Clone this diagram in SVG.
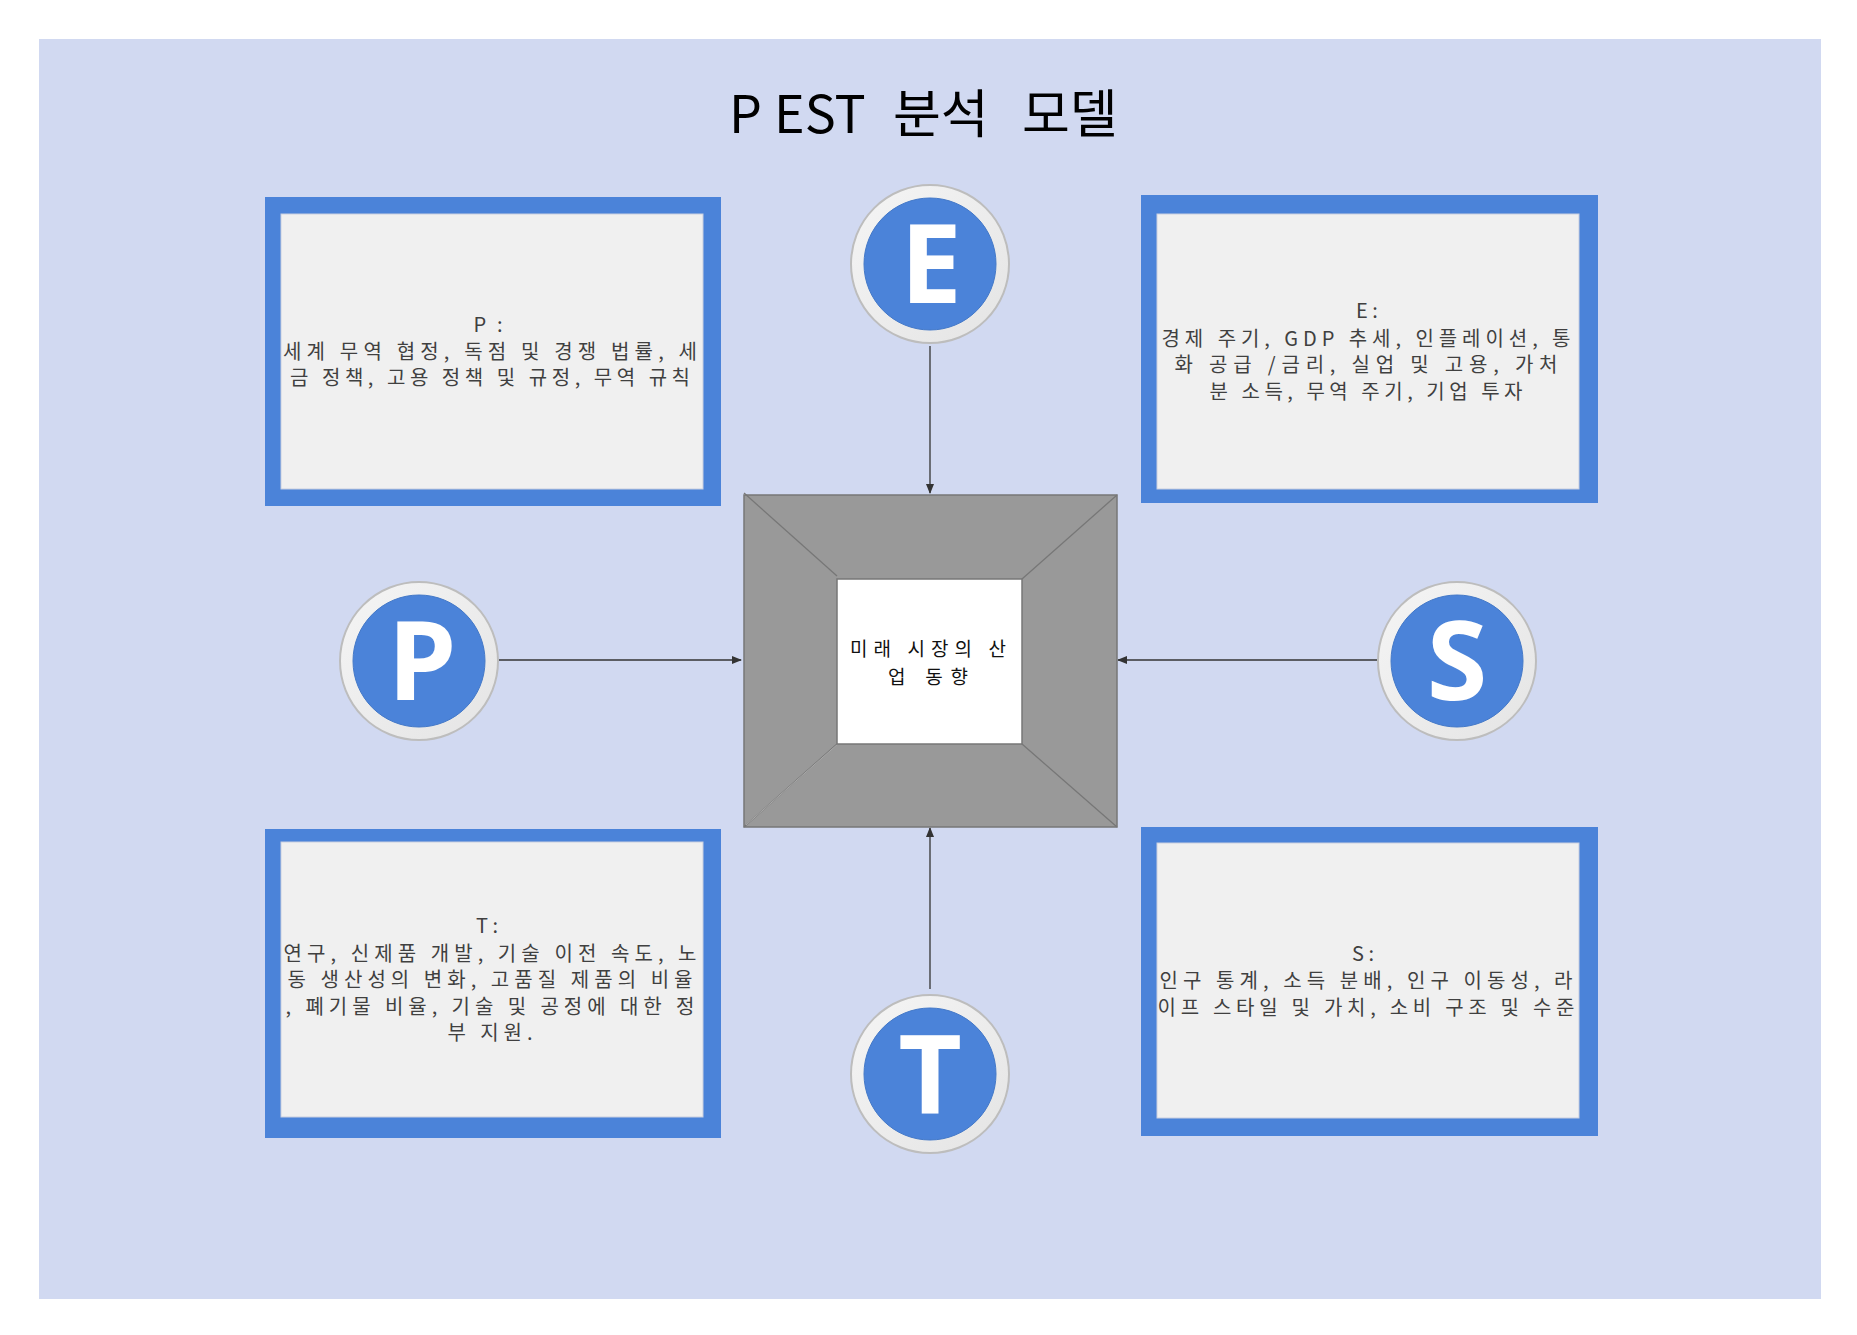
<svg xmlns="http://www.w3.org/2000/svg" width="1857" height="1335" viewBox="0 0 1857 1335">
<defs>
<style>
.bg{fill:#d1d9f1}
.card{fill:#4b83d9}
.cardin{fill:#f0f0f0;stroke:#c9cfe0;stroke-width:1}
.txt{font-family:"Noto Sans CJK KR","Noto Sans",sans-serif;font-size:20px;fill:#404040;text-anchor:middle}
.ctxt{font-family:"Noto Sans CJK KR","Noto Sans",sans-serif;font-size:19px;fill:#111;text-anchor:middle}
.ring{fill:url(#ringg);stroke:#bdbdbd;stroke-width:2}
.disc{fill:#4b83d9;stroke:#4479c8;stroke-width:1}
.letter{font-family:"Open Sans","Noto Sans",sans-serif;font-weight:bold;font-size:110px;fill:#fff;text-anchor:middle}
.conn{stroke:#333;stroke-width:1.3;fill:none}
.frame{fill:#999;stroke:#777;stroke-width:1.5}
.bevel{stroke:#777;stroke-width:1.3;fill:none}
</style>
<linearGradient id="ringg" x1="0" y1="0" x2="1" y2="1">
<stop offset="0" stop-color="#f5f5f5"/>
<stop offset="1" stop-color="#e4e4e4"/>
</linearGradient>
<marker id="arr" markerWidth="10" markerHeight="10" refX="9" refY="5" orient="auto" markerUnits="userSpaceOnUse">
<path d="M0,1 L10,5 L0,9 Z" fill="#333"/>
</marker>
</defs>
<rect width="1857" height="1335" fill="#fff"/>
<rect class="bg" x="39" y="39" width="1782" height="1260"/>
<text y="133" style="font-family:'Noto Sans CJK KR','Noto Sans',sans-serif;font-size:52px;fill:#000"><tspan x="729">P</tspan><tspan x="774">EST</tspan><tspan x="893">분석</tspan><tspan x="1022">모델</tspan></text>

<g id="connectors">
<line class="conn" x1="930" y1="346" x2="930" y2="493" marker-end="url(#arr)"/>
<line class="conn" x1="499" y1="660" x2="741" y2="660" marker-end="url(#arr)"/>
<line class="conn" x1="1377" y1="660" x2="1118" y2="660" marker-end="url(#arr)"/>
<line class="conn" x1="930" y1="989" x2="930" y2="828" marker-end="url(#arr)"/>
</g>

<g id="node-P-card">
<rect class="card" x="265" y="197" width="456" height="309"/>
<rect class="cardin" x="281" y="214" width="422" height="275"/>
<text class="txt" x="488" y="332" textLength="29" lengthAdjust="spacing">P :</text>
<text class="txt" x="490" y="359" textLength="414" lengthAdjust="spacing">세계 무역 협정, 독점 및 경쟁 법률, 세</text>
<text class="txt" x="490" y="385" textLength="400" lengthAdjust="spacing">금 정책, 고용 정책 및 규정, 무역 규칙</text>
</g>

<g id="node-E-card">
<rect class="card" x="1141" y="195" width="457" height="308"/>
<rect class="cardin" x="1157" y="214" width="422" height="275"/>
<text class="txt" x="1367" y="318">E :</text>
<text class="txt" x="1366" y="346" textLength="409" lengthAdjust="spacing">경제 주기, GDP 추세, 인플레이션, 통</text>
<text class="txt" x="1366" y="372" textLength="383" lengthAdjust="spacing">화 공급 /금리, 실업 및 고용, 가처</text>
<text class="txt" x="1366" y="399" textLength="313" lengthAdjust="spacing">분 소득, 무역 주기, 기업 투자</text>
</g>

<g id="node-T-card">
<rect class="card" x="265" y="829" width="456" height="309"/>
<rect class="cardin" x="281" y="842" width="422" height="275"/>
<text class="txt" x="487" y="933">T :</text>
<text class="txt" x="490" y="961" textLength="413" lengthAdjust="spacing">연구, 신제품 개발, 기술 이전 속도, 노</text>
<text class="txt" x="490" y="987" textLength="405" lengthAdjust="spacing">동 생산성의 변화, 고품질 제품의 비율</text>
<text class="txt" x="490" y="1014" textLength="409" lengthAdjust="spacing">, 폐기물 비율, 기술 및 공정에 대한 정</text>
<text class="txt" x="490" y="1040" textLength="85" lengthAdjust="spacing">부 지원.</text>
</g>

<g id="node-S-card">
<rect class="card" x="1141" y="827" width="457" height="309"/>
<rect class="cardin" x="1157" y="843" width="422" height="275"/>
<text class="txt" x="1363" y="961">S :</text>
<text class="txt" x="1366" y="988" textLength="413" lengthAdjust="spacing">인구 통계, 소득 분배, 인구 이동성, 라</text>
<text class="txt" x="1366" y="1015" textLength="417" lengthAdjust="spacing">이프 스타일 및 가치, 소비 구조 및 수준</text>
</g>

<g id="node-center">
<rect class="frame" x="744" y="495" width="373" height="332"/>
<line class="bevel" x1="744" y1="493" x2="837" y2="576"/>
<line class="bevel" x1="1117" y1="495" x2="1022" y2="579"/>
<line class="bevel" x1="744" y1="827" x2="837" y2="744"/>
<line class="bevel" x1="746" y1="825" x2="839" y2="743" style="stroke:#aaa;stroke-width:1"/>
<line class="bevel" x1="1117" y1="827" x2="1022" y2="744"/>
<rect x="837" y="579" width="185" height="165" fill="#fff" stroke="#777" stroke-width="1.5"/>
<text class="ctxt" x="928" y="656" textLength="156" lengthAdjust="spacing">미래 시장의 산</text>
<text class="ctxt" x="928" y="684" textLength="80" lengthAdjust="spacing">업 동향</text>
</g>

<g id="node-E">
<circle class="ring" cx="930" cy="264" r="79"/>
<circle class="disc" cx="930" cy="264" r="66"/>
<text class="letter" x="931" y="303">E</text>
</g>

<g id="node-P">
<circle class="ring" cx="419" cy="661" r="79"/>
<circle class="disc" cx="419" cy="661" r="66"/>
<text class="letter" x="422" y="700">P</text>
</g>

<g id="node-S">
<circle class="ring" cx="1457" cy="661" r="79"/>
<circle class="disc" cx="1457" cy="661" r="66"/>
<text class="letter" x="1457" y="700">S</text>
</g>

<g id="node-T">
<circle class="ring" cx="930" cy="1074" r="79"/>
<circle class="disc" cx="930" cy="1074" r="66"/>
<text class="letter" x="930" y="1113">T</text>
</g>
</svg>
